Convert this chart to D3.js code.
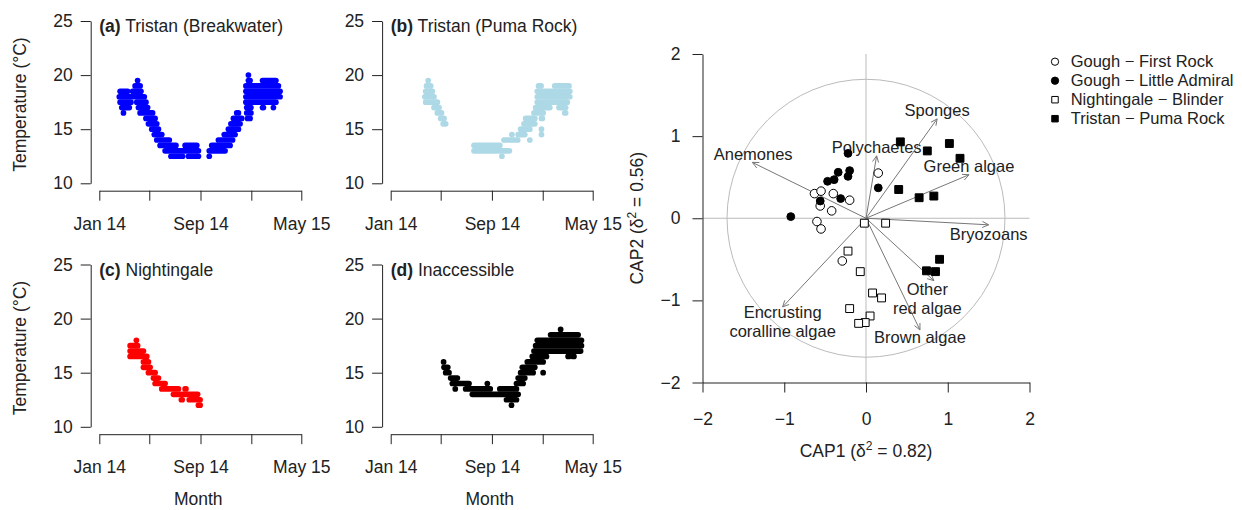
<!DOCTYPE html>
<html>
<head>
<meta charset="utf-8">
<script src="https://cdn.jsdelivr.net/npm/d3@7"></script>
<style>
body { margin: 0; background: #fff; }
svg text { font-family: "Liberation Sans", Arial, sans-serif; fill: #222; }
</style>
</head>
<body>
<div id="viz"></div>
<script>
// temperature runs: [first day, last day, temp], day 0 = 1 Jan 2014
var breakwater = [
  [50, 68, 18.5], [80, 100, 18.5], [48, 108, 18], [50, 76, 17.5], [90, 112, 17.5],
  [54, 72, 17], [94, 116, 17], [58, 58, 16.5], [98, 128, 16.5], [86, 98, 19], [92, 92, 19.5],
  [112, 134, 16], [118, 138, 15.5], [126, 142, 15], [132, 150, 14.5], [138, 168, 14],
  [146, 184, 13.5], [206, 234, 13.5], [158, 238, 13], [172, 200, 12.5], [214, 238, 12.5],
  [264, 264, 12.5], [264, 302, 13], [270, 314, 13.5], [286, 320, 14], [300, 326, 14.5],
  [310, 334, 15], [316, 338, 15.5], [322, 342, 16], [330, 334, 16.5],
  [356, 362, 16], [354, 364, 16.5], [354, 364, 17], [392, 394, 17], [418, 418, 17],
  [352, 424, 17.5], [352, 434, 18], [352, 434, 18.5], [352, 430, 19],
  [358, 362, 19.5], [392, 424, 19.5], [358, 358, 20]
];
var pumaRock = [
  [90, 90, 19.5], [86, 96, 19], [84, 100, 18.5], [82, 104, 18], [84, 90, 17.5], [96, 112, 17.5],
  [104, 116, 17], [112, 122, 16.5], [120, 128, 16], [126, 132, 15.5],
  [200, 262, 13.5], [200, 285, 13], [267, 267, 12.5], [272, 305, 14], [334, 334, 14],
  [291, 291, 14.5], [306, 322, 14.5], [362, 362, 14.5], [312, 334, 15], [362, 362, 15],
  [320, 346, 15.5], [324, 346, 16], [362, 364, 16], [344, 366, 16.5], [418, 420, 16.5],
  [348, 382, 17], [404, 414, 17], [420, 420, 17], [352, 424, 17.5], [352, 430, 18],
  [352, 430, 18.5], [355, 361, 19], [394, 428, 19]
];
var nightingale = [
  [89, 89, 18], [74, 92, 17.5], [74, 106, 17], [74, 114, 16.5], [106, 118, 16],
  [106, 122, 15.5], [118, 134, 15], [130, 142, 14.5], [134, 158, 14], [150, 190, 13.5],
  [206, 208, 13.5], [178, 236, 13], [197, 199, 12.5], [216, 242, 12.5], [238, 242, 12]
];
var inaccessible = [
  [127, 127, 16], [128, 137, 15.5], [132, 140, 15], [144, 160, 14.5], [148, 188, 14],
  [232, 232, 14], [155, 155, 13.5], [180, 239, 13.5], [262, 302, 13.5], [196, 306, 13],
  [278, 302, 12.5], [290, 290, 12], [302, 318, 14], [306, 322, 14.5], [312, 342, 15],
  [366, 366, 15], [316, 346, 15.5], [328, 366, 16], [340, 374, 16.5], [426, 428, 16.5],
  [438, 440, 16.5], [344, 456, 17], [348, 458, 17.5], [352, 458, 18], [384, 450, 18.5],
  [408, 408, 19]
];
var panelData = [breakwater, pumaRock, nightingale, inaccessible];
var panelTags = ["(a)", "(b)", "(c)", "(d)"];
var panelNames = ["Tristan (Breakwater)", "Tristan (Puma Rock)", "Nightingale", "Inaccessible"];
var panelColours = ["#0000ff", "#add8e6", "#ff0000", "#000000"];
var monthTicks = ["2014-01-01", "2014-05-01", "2014-09-01", "2015-01-01", "2015-05-01"];
var monthLabels = ["Jan 14", "", "Sep 14", "", "May 15"];
var tempTicks = [10, 15, 20, 25];

// CAP ordination
var siteNames = ["Gough \u2212 First Rock", "Gough \u2212 Little Admiral", "Nightingale \u2212 Blinder", "Tristan \u2212 Puma Rock"];
var firstRockX = [0.15, -0.63, -0.55, -0.40, -0.56, -0.20, -0.42, -0.60, -0.55, -0.29];
var firstRockY = [0.55, 0.30, 0.33, 0.30, 0.15, 0.22, 0.09, -0.04, -0.13, -0.52];
var littleAdmiralX = [-0.22, -0.34, -0.20, -0.22, -0.39, -0.47, 0.15, -0.31, -0.56, -0.92];
var littleAdmiralY = [0.79, 0.56, 0.58, 0.51, 0.47, 0.45, 0.37, 0.24, 0.21, 0.02];
var blinderX = [-0.02, 0.24, -0.22, -0.07, 0.08, 0.19, -0.20, 0.05, -0.01, -0.09];
var blinderY = [-0.06, -0.06, -0.40, -0.65, -0.91, -0.97, -1.10, -1.19, -1.27, -1.28];
var pumaX = [0.42, 0.75, 1.02, 1.15, 0.40, 0.65, 0.83, 0.90, 0.74, 0.85];
var pumaY = [0.93, 0.82, 0.91, 0.73, 0.35, 0.25, 0.27, -0.50, -0.64, -0.65];
var species = ["Anemones", "Polychaetes", "Sponges", "Green algae", "Bryozoans", "Other\nred algae", "Brown algae", "Encrusting\ncoralline algae"];
var arrowX = [-1.39, 0.13, 0.87, 1.26, 1.50, 0.83, 0.66, -1.02];
var arrowY = [0.68, 0.76, 1.21, 0.53, -0.08, -0.76, -1.36, -1.08];
var labelX = [-1.38, 0.13, 0.87, 1.26, 1.50, 0.75, 0.66, -1.02];
var labelY = [0.78, 0.87, 1.32, 0.63, -0.19, -0.975, -1.45, -1.26];
var capTicks = [-2, -1, 0, 1, 2];
var circleRadius = 1.7;

var width = 1242, height = 510;
var svg = d3.select("#viz").append("svg")
    .attr("width", width)
    .attr("height", height);

var start = new Date(2014, 0, 1);
function day(d) { return d3.timeDay.offset(start, d); }
var parse = d3.timeParse("%Y-%m-%d");

var panelLeft = [99.3, 390.7], panelShift = [0, 243.5], dotR = 2.85, fs = 17.5;

panelData.forEach(function(runs, i) {
  var col = i % 2, row = Math.floor(i / 2), dy = panelShift[row], x0 = panelLeft[col];
  var x = d3.scaleTime().domain([start, parse("2015-05-01")]).range([x0, x0 + 202]);
  var y = d3.scaleLinear().domain([10, 25]).range([183.3 + dy, 21 + dy]);
  var g = svg.append("g");

  g.selectAll("rect.run")
    .data(runs)
    .enter()
    .append("rect")
    .attr("class", "run")
    .attr("x", function(d) { return x(day(d[0])) - dotR; })
    .attr("y", function(d) { return y(d[2]) - dotR; })
    .attr("width", function(d) { return x(day(d[1])) - x(day(d[0])) + 2 * dotR; })
    .attr("height", 2 * dotR)
    .attr("rx", dotR)
    .attr("ry", dotR)
    .style("fill", panelColours[i]);

  g.append("g")
    .attr("transform", "translate(0," + (190.7 + dy) + ")")
    .call(d3.axisBottom(x)
      .tickValues(monthTicks.map(parse))
      .tickFormat(function(d, k) { return monthLabels[k]; })
      .tickSize(10).tickPadding(16.5).tickSizeOuter(0))
    .attr("font-size", fs)
    .attr("font-family", null)
    .style("color", "#222");

  g.append("g")
    .attr("transform", "translate(" + (x0 - 8.6) + ",0)")
    .call(d3.axisLeft(y)
      .tickValues(tempTicks)
      .tickSize(10).tickPadding(8).tickSizeOuter(0))
    .attr("font-size", fs)
    .attr("font-family", null)
    .style("color", "#222");

  var title = g.append("text")
    .attr("x", x0)
    .attr("y", 32 + dy)
    .attr("font-size", fs);
  title.append("tspan").attr("font-weight", "bold").text(panelTags[i]);
  title.append("tspan").text(" " + panelNames[i]);

  if (col == 0) {
    g.append("text")
      .attr("transform", "translate(25.5," + (104.5 + dy) + ") rotate(-90)")
      .attr("text-anchor", "middle")
      .attr("font-size", fs)
      .text("Temperature (\u00b0C)");
  }
  if (row == 1) {
    g.append("text")
      .attr("x", x0 + 99)
      .attr("y", 505)
      .attr("text-anchor", "middle")
      .attr("font-size", fs)
      .text("Month");
  }
});

// CAP panel
var xc = d3.scaleLinear().domain([-2, 2]).range([702.5, 1029.5]);
var yc = d3.scaleLinear().domain([-2, 2]).range([382.5, 54]);
var cap = svg.append("g");

cap.append("line")
  .attr("x1", xc(-2)).attr("x2", xc(2))
  .attr("y1", yc(0)).attr("y2", yc(0))
  .style("stroke", "#bbb");
cap.append("line")
  .attr("x1", xc(0)).attr("x2", xc(0))
  .attr("y1", yc(2)).attr("y2", yc(-2))
  .style("stroke", "#bbb");
cap.append("circle")
  .attr("cx", xc(0)).attr("cy", yc(0))
  .attr("r", xc(circleRadius) - xc(0))
  .style("fill", "none")
  .style("stroke", "#bbb");

cap.append("g")
  .attr("transform", "translate(0," + yc(-2) + ")")
  .call(d3.axisBottom(xc).tickValues(capTicks).tickFormat(d3.format("d"))
    .tickSize(10).tickPadding(20).tickSizeOuter(0))
  .attr("font-size", fs)
  .attr("font-family", null)
  .style("color", "#222");
cap.append("g")
  .attr("transform", "translate(" + xc(-2) + ",0)")
  .call(d3.axisLeft(yc).tickValues(capTicks).tickFormat(d3.format("d"))
    .tickSize(10).tickPadding(12).tickSizeOuter(0))
  .attr("font-size", fs)
  .attr("font-family", null)
  .style("color", "#222");

var xt = cap.append("text")
  .attr("x", xc(0)).attr("y", 457)
  .attr("text-anchor", "middle")
  .attr("font-size", fs);
xt.append("tspan").text("CAP1 (\u03b4");
xt.append("tspan").attr("font-size", 12).attr("dy", -7).text("2");
xt.append("tspan").attr("dy", 7).text(" = 0.82)");

var yt = cap.append("text")
  .attr("transform", "translate(643," + yc(0) + ") rotate(-90)")
  .attr("text-anchor", "middle")
  .attr("font-size", fs);
yt.append("tspan").text("CAP2 (\u03b4");
yt.append("tspan").attr("font-size", 12).attr("dy", -7).text("2");
yt.append("tspan").attr("dy", 7).text(" = 0.56)");

// species arrows
species.forEach(function(s, i) {
  var x1 = xc(0), y1 = yc(0), x2 = xc(arrowX[i]), y2 = yc(arrowY[i]);
  var a = Math.atan2(y2 - y1, x2 - x1), len = 7, spread = Math.PI / 7;
  cap.append("line")
    .attr("x1", x1).attr("y1", y1).attr("x2", x2).attr("y2", y2)
    .style("stroke", "#777");
  cap.append("path")
    .attr("d", "M" + (x2 - len * Math.cos(a - spread)) + "," + (y2 - len * Math.sin(a - spread)) +
               "L" + x2 + "," + y2 +
               "L" + (x2 - len * Math.cos(a + spread)) + "," + (y2 - len * Math.sin(a + spread)))
    .style("fill", "none")
    .style("stroke", "#777");
  var lines = s.split("\n");
  var t = cap.append("text")
    .attr("text-anchor", "middle")
    .attr("font-size", 16.5);
  lines.forEach(function(l, k) {
    t.append("tspan")
      .attr("x", xc(labelX[i]))
      .attr("y", yc(labelY[i]) + (k - (lines.length - 1) / 2) * 19)
      .attr("dy", "0.35em")
      .text(l);
  });
});

// sites
var siteX = [firstRockX, littleAdmiralX, blinderX, pumaX];
var siteY = [firstRockY, littleAdmiralY, blinderY, pumaY];
var siteShape = [d3.symbolCircle, d3.symbolCircle, d3.symbolSquare, d3.symbolSquare];
var siteFill = ["#fff", "#000", "#fff", "#000"];
var siteSize = [58, 48, 62, 62];

siteX.forEach(function(xs, j) {
  cap.selectAll("path.site" + j)
    .data(xs)
    .enter()
    .append("path")
    .attr("class", "site" + j)
    .attr("d", d3.symbol().type(siteShape[j]).size(siteSize[j]))
    .attr("transform", function(d, k) { return "translate(" + xc(d) + "," + yc(siteY[j][k]) + ")"; })
    .style("fill", siteFill[j])
    .style("stroke", "#000")
    .style("stroke-width", 1);
});

// legend
var legend = svg.append("g").attr("transform", "translate(1055,61.7)");
siteNames.forEach(function(n, j) {
  legend.append("path")
    .attr("d", d3.symbol().type(siteShape[j]).size(42))
    .attr("transform", "translate(0," + (j * 19) + ")")
    .style("fill", siteFill[j])
    .style("stroke", "#000");
  legend.append("text")
    .attr("x", 15.7)
    .attr("y", j * 19)
    .attr("dy", "0.35em")
    .attr("font-size", 16.5)
    .text(n);
});
</script>
</body>
</html>
